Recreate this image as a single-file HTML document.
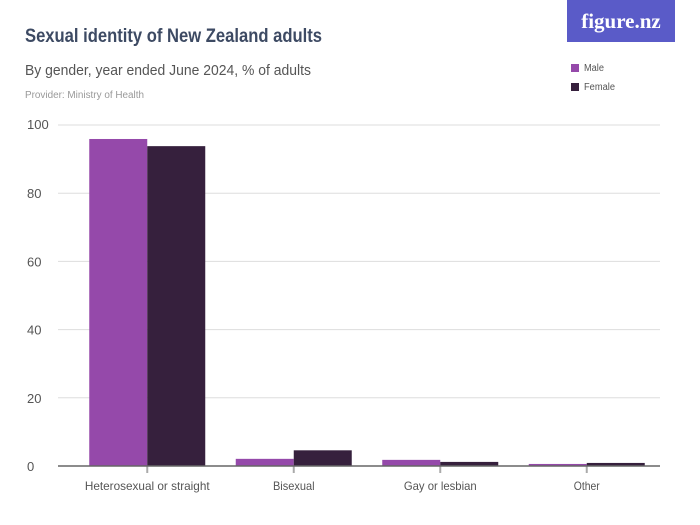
<!DOCTYPE html>
<html><head><meta charset="utf-8"><style>
body{margin:0;background:#fff;font-family:"Liberation Sans",sans-serif}
#c{position:relative;width:700px;height:525px;overflow:hidden}
</style></head><body>
<div id="c">
<svg width="700" height="525" xmlns="http://www.w3.org/2000/svg" id="svg">
<text x="25" y="42" font-size="19" font-weight="bold" fill="#3d4a63" textLength="297" lengthAdjust="spacingAndGlyphs">Sexual identity of New Zealand adults</text>
<text x="25" y="75" font-size="15" fill="#555" textLength="286" lengthAdjust="spacingAndGlyphs">By gender, year ended June 2024, % of adults</text>
<text x="25" y="98" font-size="10" fill="#999" textLength="119" lengthAdjust="spacingAndGlyphs">Provider: Ministry of Health</text>
<rect x="567" y="0" width="108" height="42" fill="#5a5bc8"/>
<text x="621" y="28" font-size="21" font-weight="bold" fill="#fff" text-anchor="middle" font-family="Liberation Serif,serif">figure.nz</text>
<rect x="571" y="64" width="8" height="8" fill="#9549aa"/>
<text x="584" y="71" font-size="10" fill="#555" textLength="20" lengthAdjust="spacingAndGlyphs">Male</text>
<rect x="571" y="83" width="8" height="8" fill="#36203d"/>
<text x="584" y="90" font-size="10" fill="#555" textLength="31" lengthAdjust="spacingAndGlyphs">Female</text>
<g id="grid"></g><g id="bars"></g><g id="xax"></g>
</svg></div>
<script>
const categories=["Heterosexual or straight","Bisexual","Gay or lesbian","Other"];
const male=[95.9,2.1,1.8,0.6];
const female=[93.8,4.6,1.2,0.9];
const yTicks=[0,20,40,60,80,100];
const NS="http://www.w3.org/2000/svg";
const x0=74,x1=660,yB=466,yT=125;
const y=v=>yB-(yB-yT)*v/100;
const band=(x1-x0)/categories.length;
const cx=i=>x0+band*(i+0.5);
function mk(t,a,p){const e=document.createElementNS(NS,t);for(const k in a)e.setAttribute(k,a[k]);p.appendChild(e);return e;}
const g=document.getElementById('grid'),b=document.getElementById('bars'),xa=document.getElementById('xax');
yTicks.forEach(v=>{
 if(v>0){const l=mk('line',{x1:58,x2:x1,y1:y(v),y2:y(v),stroke:'#ddd'},g);
 
 }
 const t=mk('text',{x:27,y:y(v)+(v==100?4:5),'font-size':13,fill:'#555',transform:'scale(1,1)'},g);t.textContent=v;
 
 
});
const bw=58;
categories.forEach((c,i)=>{
 const r1=mk('rect',{x:cx(i)-bw,y:y(male[i]),width:bw,height:yB-y(male[i]),fill:'#9549aa'},b);
 
 
 const r2=mk('rect',{x:cx(i),y:y(female[i]),width:bw,height:yB-y(female[i]),fill:'#36203d'},b);
 
 
 const tk=mk('line',{x1:cx(i),x2:cx(i),y1:yB,y2:yB+7,stroke:'#aaa','stroke-width':2},xa);
 
 
 const t=mk('text',{x:cx(i),y:490,'font-size':12,fill:'#555','text-anchor':'middle',textLength:c.length*5.2,lengthAdjust:'spacingAndGlyphs'},xa);t.textContent=c;
 
 
});
const ax=mk('line',{x1:58,x2:x1,y1:yB,y2:yB,stroke:'#666','stroke-width':1.5},xa);


</script>
</body></html>
